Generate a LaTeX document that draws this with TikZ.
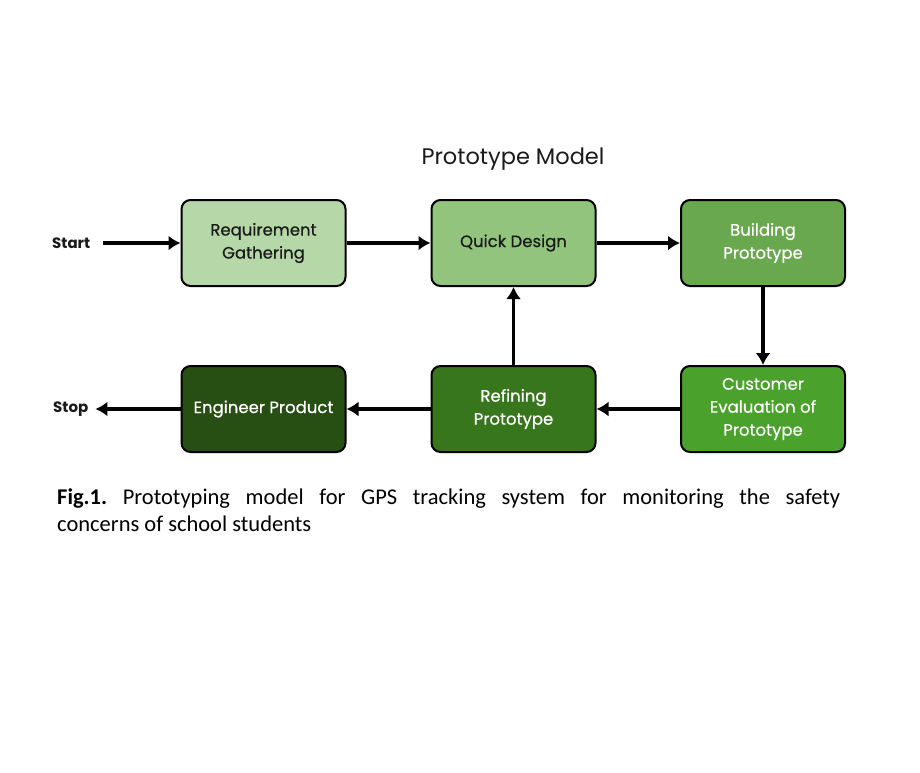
\documentclass[tikz,border=0pt]{standalone}
\usepackage{fontspec}
\setmainfont{Carlito}
\newfontfamily\boxfont[FakeBold=0.6]{Poppins}
\newfontfamily\titlefont{Poppins}
\usetikzlibrary{arrows.meta}
\definecolor{g1}{HTML}{B6D7A8}
\definecolor{g2}{HTML}{93C47D}
\definecolor{g3}{HTML}{6AA84F}
\definecolor{g4}{HTML}{4AA22C}
\definecolor{g5}{HTML}{38761D}
\definecolor{g6}{HTML}{274E13}
\definecolor{txt}{HTML}{1A1A1A}
\tikzset{
  stage/.style={draw=black, line width=2pt, rounded corners=9pt, minimum width=164pt, minimum height=86pt, align=center, font=\boxfont\fontsize{16.5}{23}\selectfont, inner sep=2pt},
  darktxt/.style={text=txt},
  lighttxt/.style={text=white},
  flow/.style={line width=3.8pt, -{Latex[length=12pt,width=15pt]}},
  endlabel/.style={font=\titlefont\bfseries\fontsize{15}{16}\selectfont, text=txt, inner sep=1pt}
}
\begin{document}
\begin{tikzpicture}[x=1pt,y=-1pt]
\useasboundingbox[fill=white] (0,0) rectangle (920,772);
\node[font=\titlefont\fontsize{22.5}{26}\selectfont, text=txt] (title) at (513,159) {Prototype Model};
\node[stage, darktxt, fill=g1] (req) at (263.5,243) {Requirement\\Gathering};
\node[stage, darktxt, fill=g2] (qd) at (513.5,243) {Quick Design};
\node[stage, lighttxt, fill=g3] (bp) at (763,243) {Building\\Prototype};
\node[stage, lighttxt, fill=g4] (ce) at (763,409) {Customer\\Evaluation of\\Prototype};
\node[stage, lighttxt, fill=g5] (rp) at (513.5,409) {Refining\\Prototype};
\node[stage, lighttxt, fill=g6] (ep) at (263.5,409) {Engineer Product};
\node[endlabel, anchor=west] (start) at (51,243) {Start};
\node[endlabel, anchor=west] (stop) at (52,409) {Stop};
\draw[flow] (start.east) ++(12,0) coordinate (s0) (s0) -- (req.west);
\draw[flow] (req) -- (qd);
\draw[flow] (qd) -- (bp);
\draw[flow] (bp) -- (ce);
\draw[flow] (ce) -- (rp);
\draw[flow] (rp) -- (qd);
\draw[flow] (rp) -- (ep);
\draw[flow] (ep.west) -- ([xshift=6pt]stop.east);
\node[anchor=north west, text width=783pt, align=justify, inner sep=0pt, font=\fontsize{22.5}{27}\selectfont] (cap) at (57,489) {\frenchspacing\textbf{Fig.1.} Prototyping model for GPS tracking system for monitoring the safety\linebreak concerns of school students};
\end{tikzpicture}
\end{document}
